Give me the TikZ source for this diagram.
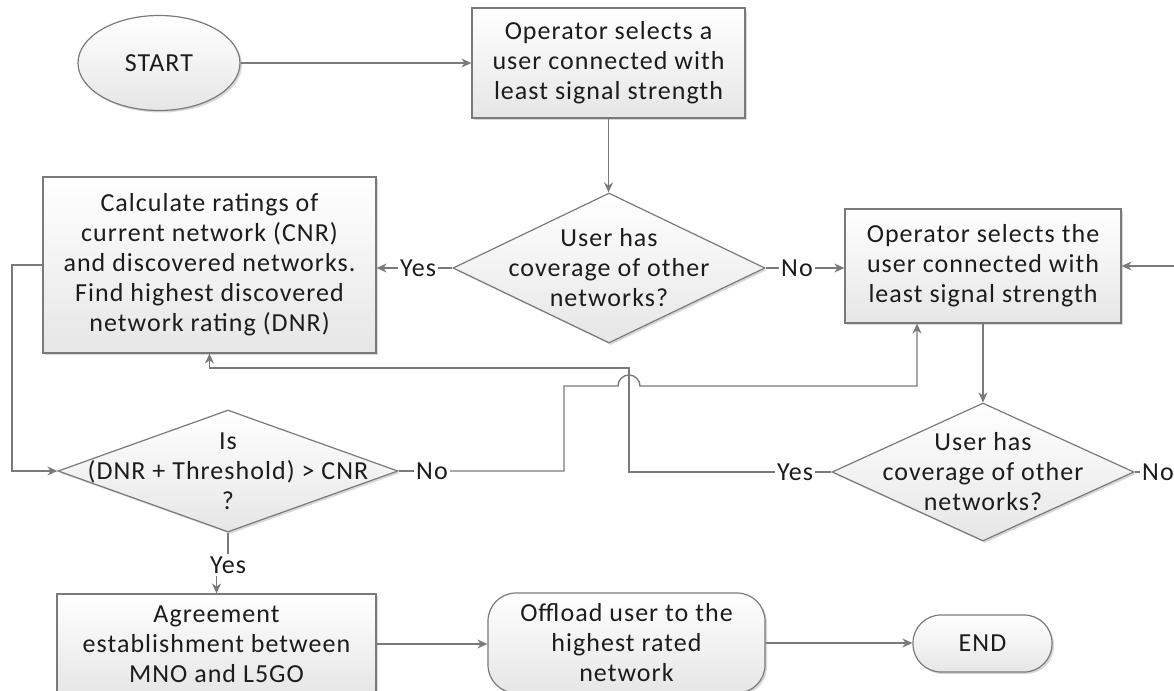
\documentclass[tikz,border=0pt]{standalone}
\usepackage{fontspec}
\setmainfont{Carlito}[LetterSpace=4]
\usetikzlibrary{shapes.geometric,arrows.meta,shadows}

\definecolor{edge}{HTML}{7A7A7A}
\definecolor{ink}{HTML}{1C1C1C}
\definecolor{shadeb}{HTML}{E6E6E6}

\tikzset{
  every node/.style={font=\fontsize{13pt}{15pt}\selectfont, text=ink},
  shapebase/.style={draw=edge, line width=0.6pt, top color=white, bottom color=shadeb,
    drop shadow={shadow xshift=1pt, shadow yshift=-1pt, opacity=0.25, fill=black!60}},
  procbox/.style={shapebase, rectangle, inner sep=0pt, align=center},
  decision/.style={shapebase, diamond, inner sep=0pt},
  txt/.style={align=center, inner sep=0pt},
  lbl/.style={inner sep=1pt},
  flow/.style={draw=edge, line width=0.7pt},
  arr/.style={flow, -{Stealth[length=5pt,width=4.5pt]}},
}

\begin{document}
\begin{tikzpicture}[x=0.5pt,y=-0.5pt]
\useasboundingbox (0,0) rectangle (1174,691);
\fill[white] (0,0) rectangle (1174,691);
\clip (0,0) rectangle (1174,691);

% shapes
\node[shapebase, ellipse, inner sep=0pt, minimum width=81pt, minimum height=47.5pt] (start) at (159,63) {START};
\node[procbox, minimum width=136.5pt, minimum height=55pt] (op1) at (608.5,63)
  {Operator selects a\\user connected with\\least signal strength};
\node[decision, minimum width=156pt, minimum height=75pt] (d1) at (609,268) {};
\node[txt] at (d1) {User has\\coverage of other\\networks?};
\node[procbox, minimum width=166.5pt, minimum height=88pt] (calc) at (209.5,265)
  {Calculate ratings of\\current network (CNR)\\and discovered networks.\\Find highest discovered\\network rating (DNR)};
\node[procbox, minimum width=138pt, minimum height=57pt] (op2) at (983,266)
  {Operator selects the\\user connected with\\least signal strength};
\node[decision, minimum width=151pt, minimum height=69pt] (d2) at (983,472) {};
\node[txt] at (d2) {User has\\coverage of other\\networks?};
\node[decision, minimum width=170pt, minimum height=61pt] (d3) at (228,471) {};
\node[txt] at (d3) {Is\\(DNR + Threshold) > CNR\\?};
\node[procbox, minimum width=159.5pt, minimum height=50pt] (agree) at (216.5,644)
  {Agreement\\establishment between\\MNO and L5GO};
\node[procbox, rounded corners=14pt, minimum width=138.5pt, minimum height=50pt] (off) at (626.5,643)
  {Offload user to the\\highest rated\\network};
\node[procbox, rounded corners=14pt, minimum width=69.5pt, minimum height=28.5pt] (end) at (982.5,643.5) {END};

% branch labels
\node[lbl] (y1) at (418,268) {Yes};
\node[lbl] (n1) at (797,268) {No};
\node[lbl] (y2) at (795,472) {Yes};
\node[lbl] (n2) at (1158,472) {No};
\node[lbl] (n3) at (432,471) {No};
\node[lbl] (y3) at (228,565) {Yes};

\coordinate (rin) at (1174,266);
\coordinate (kx) at (917,386);

% connectors
\draw[arr] (start.east) -- (start.east -| op1.west);
\draw[arr] (op1.south) -- (op1.south |- d1.north);
\draw[flow] (d1.west) -- (y1.east);
\draw[arr] (y1.west) -- (y1.west -| calc.east);
\draw[flow] (d1.east) -- (n1.west);
\draw[arr] (n1.east) -- (n1.east -| op2.west);
\draw[arr] (rin) -- (op2.east);
\draw[arr] (op2.south) -- (d2.north);
\draw[flow] (d2.west) -- (y2.east);
\draw[flow] (d2.east) -- (n2.west);
\draw[arr] (y2.west) -- (629,472) -- (629,368) -| (calc.south);
\draw[arr] (n3.east) -- (564,471) -- (564,386) -- (618,386)
  arc[start angle=180, end angle=0, radius=5.5pt] -- (kx) -- (kx |- op2.south);
\draw[arr] (calc.west) -- (12,265) |- (d3.west);
\draw[flow] (d3.east) -- (n3.west);
\draw[flow] (d3.south) -- (y3.north);
\draw[arr] (y3.south -| agree.north) -- (agree.north);
\draw[arr] (agree.east) -- (agree.east -| off.west);
\draw[arr] (off.east) -- (off.east -| end.west);
\end{tikzpicture}
\end{document}
